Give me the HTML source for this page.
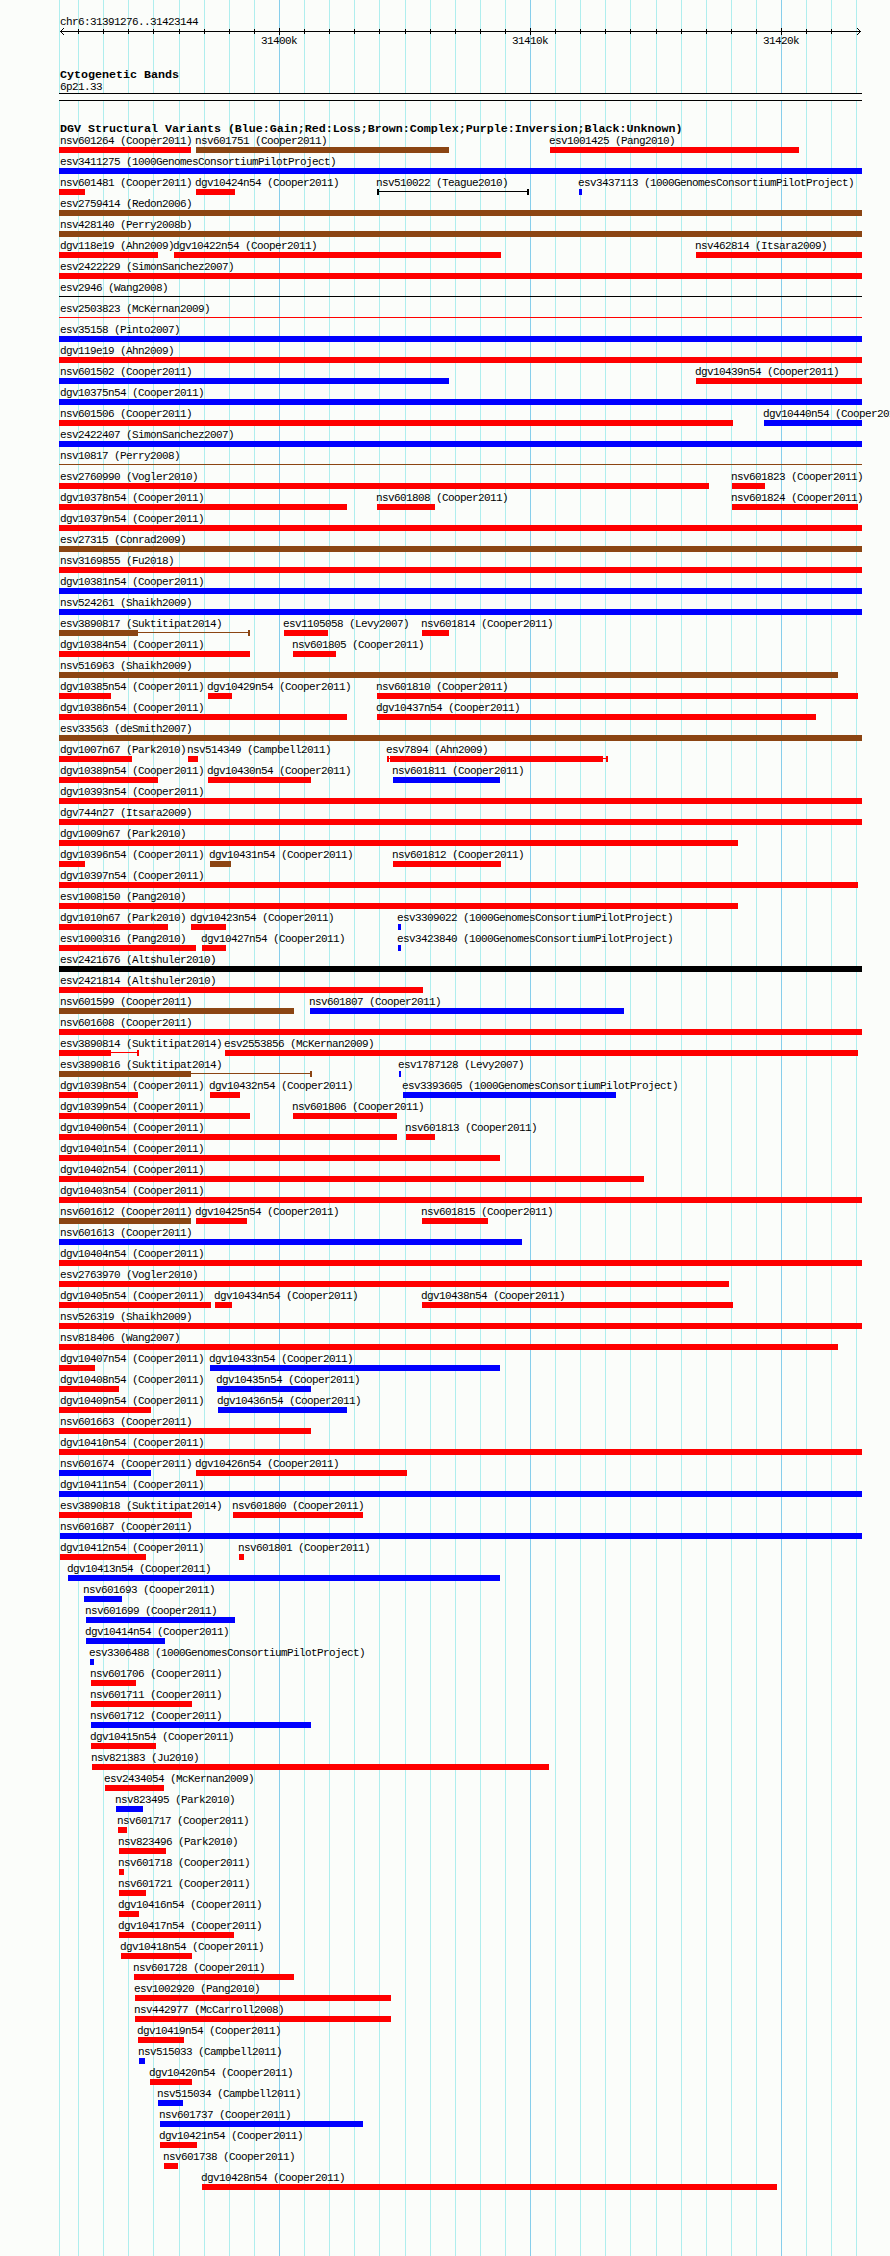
<!DOCTYPE html>
<html><head><meta charset="utf-8"><title>DGV</title><style>
html,body{margin:0;padding:0}
body{width:890px;height:2256px;background:#fbfdfa;position:relative;overflow:hidden}
i,b,s{position:absolute;display:block;text-decoration:none;font-style:normal}
.g{top:0;width:1px;height:2256px;background:#afeeee}
.G{top:0;width:1px;height:2256px;background:#87ceeb}
s{font:11px/13px "Liberation Mono",monospace;letter-spacing:-0.6px;white-space:pre;color:#000}
b{font:bold 11.67px/13px "Liberation Mono",monospace;letter-spacing:0px;white-space:pre;color:#000}
.r{background:#ff0000}.u{background:#0000ff}.n{background:#8b4513}.k{background:#000}
</style></head><body>
<i class="g" style="left:59px"></i>
<i class="g" style="left:78px"></i>
<i class="g" style="left:103px"></i>
<i class="g" style="left:128px"></i>
<i class="g" style="left:153px"></i>
<i class="g" style="left:179px"></i>
<i class="g" style="left:204px"></i>
<i class="g" style="left:229px"></i>
<i class="g" style="left:254px"></i>
<i class="G" style="left:279px"></i>
<i class="g" style="left:304px"></i>
<i class="g" style="left:329px"></i>
<i class="g" style="left:354px"></i>
<i class="g" style="left:379px"></i>
<i class="g" style="left:405px"></i>
<i class="g" style="left:430px"></i>
<i class="g" style="left:455px"></i>
<i class="g" style="left:480px"></i>
<i class="g" style="left:505px"></i>
<i class="G" style="left:530px"></i>
<i class="g" style="left:555px"></i>
<i class="g" style="left:580px"></i>
<i class="g" style="left:605px"></i>
<i class="g" style="left:630px"></i>
<i class="g" style="left:656px"></i>
<i class="g" style="left:681px"></i>
<i class="g" style="left:706px"></i>
<i class="g" style="left:731px"></i>
<i class="g" style="left:756px"></i>
<i class="G" style="left:781px"></i>
<i class="g" style="left:806px"></i>
<i class="g" style="left:831px"></i>
<i class="g" style="left:856px"></i>
<i style="left:59px;top:93px;width:803px;height:8px;background:#fbfdfa;border-top:1px solid #000;border-bottom:1px solid #000;box-sizing:border-box"></i>
<s style="left:60px;top:16px">chr6:31391276..31423144</s>
<i class="k" style="left:60px;top:31px;width:801px;height:1px"></i>
<svg style="position:absolute;left:0;top:0" width="890" height="40" shape-rendering="crispEdges"><path d="M60 31h1v1h-1zM61 30h1v1h-1zM62 29h1v1h-1zM63 28h1v1h-1zM61 32h1v1h-1zM62 33h1v1h-1zM63 34h1v1h-1zM860 31h1v1h-1zM859 30h1v1h-1zM858 29h1v1h-1zM857 28h1v1h-1zM859 32h1v1h-1zM858 33h1v1h-1zM857 34h1v1h-1z" fill="#000"/></svg>
<i class="k" style="left:78px;top:29px;width:1px;height:5px"></i>
<i class="k" style="left:103px;top:29px;width:1px;height:5px"></i>
<i class="k" style="left:128px;top:29px;width:1px;height:5px"></i>
<i class="k" style="left:153px;top:29px;width:1px;height:5px"></i>
<i class="k" style="left:179px;top:29px;width:1px;height:5px"></i>
<i class="k" style="left:204px;top:29px;width:1px;height:5px"></i>
<i class="k" style="left:229px;top:29px;width:1px;height:5px"></i>
<i class="k" style="left:254px;top:29px;width:1px;height:5px"></i>
<i class="k" style="left:279px;top:28px;width:1px;height:7px"></i>
<s style="left:261px;top:35px">31400k</s>
<i class="k" style="left:304px;top:29px;width:1px;height:5px"></i>
<i class="k" style="left:329px;top:29px;width:1px;height:5px"></i>
<i class="k" style="left:354px;top:29px;width:1px;height:5px"></i>
<i class="k" style="left:379px;top:29px;width:1px;height:5px"></i>
<i class="k" style="left:405px;top:29px;width:1px;height:5px"></i>
<i class="k" style="left:430px;top:29px;width:1px;height:5px"></i>
<i class="k" style="left:455px;top:29px;width:1px;height:5px"></i>
<i class="k" style="left:480px;top:29px;width:1px;height:5px"></i>
<i class="k" style="left:505px;top:29px;width:1px;height:5px"></i>
<i class="k" style="left:530px;top:28px;width:1px;height:7px"></i>
<s style="left:512px;top:35px">31410k</s>
<i class="k" style="left:555px;top:29px;width:1px;height:5px"></i>
<i class="k" style="left:580px;top:29px;width:1px;height:5px"></i>
<i class="k" style="left:605px;top:29px;width:1px;height:5px"></i>
<i class="k" style="left:630px;top:29px;width:1px;height:5px"></i>
<i class="k" style="left:656px;top:29px;width:1px;height:5px"></i>
<i class="k" style="left:681px;top:29px;width:1px;height:5px"></i>
<i class="k" style="left:706px;top:29px;width:1px;height:5px"></i>
<i class="k" style="left:731px;top:29px;width:1px;height:5px"></i>
<i class="k" style="left:756px;top:29px;width:1px;height:5px"></i>
<i class="k" style="left:781px;top:28px;width:1px;height:7px"></i>
<s style="left:763px;top:35px">31420k</s>
<i class="k" style="left:806px;top:29px;width:1px;height:5px"></i>
<i class="k" style="left:831px;top:29px;width:1px;height:5px"></i>
<b style="left:60px;top:69px">Cytogenetic Bands</b>
<s style="left:60px;top:81px">6p21.33</s>
<b style="left:60px;top:123px">DGV Structural Variants (Blue:Gain;Red:Loss;Brown:Complex;Purple:Inversion;Black:Unknown)</b>
<s style="left:60px;top:135px">nsv601264 (Cooper2011)</s>
<i class="r" style="left:59px;top:147px;width:132px;height:6px"></i>
<s style="left:195px;top:135px">nsv601751 (Cooper2011)</s>
<i class="n" style="left:196px;top:147px;width:253px;height:6px"></i>
<s style="left:549px;top:135px">esv1001425 (Pang2010)</s>
<i class="r" style="left:550px;top:147px;width:249px;height:6px"></i>
<s style="left:60px;top:156px">esv3411275 (1000GenomesConsortiumPilotProject)</s>
<i class="u" style="left:59px;top:168px;width:803px;height:6px"></i>
<s style="left:60px;top:177px">nsv601481 (Cooper2011)</s>
<i class="r" style="left:59px;top:189px;width:26px;height:6px"></i>
<s style="left:195px;top:177px">dgv10424n54 (Cooper2011)</s>
<i class="r" style="left:196px;top:189px;width:39px;height:6px"></i>
<s style="left:376px;top:177px">nsv510022 (Teague2010)</s>
<i class="k" style="left:377px;top:189px;width:2px;height:6px"></i>
<i class="k" style="left:377px;top:191px;width:152px;height:1px"></i>
<i class="k" style="left:527px;top:189px;width:2px;height:6px"></i>
<s style="left:578px;top:177px">esv3437113 (1000GenomesConsortiumPilotProject)</s>
<i class="u" style="left:579px;top:189px;width:3px;height:6px"></i>
<s style="left:60px;top:198px">esv2759414 (Redon2006)</s>
<i class="n" style="left:59px;top:210px;width:803px;height:6px"></i>
<s style="left:60px;top:219px">nsv428140 (Perry2008b)</s>
<i class="n" style="left:59px;top:231px;width:803px;height:6px"></i>
<s style="left:60px;top:240px">dgv118e19 (Ahn2009)</s>
<i class="r" style="left:59px;top:252px;width:99px;height:6px"></i>
<s style="left:173px;top:240px">dgv10422n54 (Cooper2011)</s>
<i class="r" style="left:174px;top:252px;width:327px;height:6px"></i>
<s style="left:695px;top:240px">nsv462814 (Itsara2009)</s>
<i class="r" style="left:696px;top:252px;width:166px;height:6px"></i>
<s style="left:60px;top:261px">esv2422229 (SimonSanchez2007)</s>
<i class="r" style="left:59px;top:273px;width:803px;height:6px"></i>
<s style="left:60px;top:282px">esv2946 (Wang2008)</s>
<i class="k" style="left:59px;top:296px;width:803px;height:1px"></i>
<s style="left:60px;top:303px">esv2503823 (McKernan2009)</s>
<i class="r" style="left:59px;top:317px;width:803px;height:1px"></i>
<s style="left:60px;top:324px">esv35158 (Pinto2007)</s>
<i class="u" style="left:59px;top:336px;width:803px;height:6px"></i>
<s style="left:60px;top:345px">dgv119e19 (Ahn2009)</s>
<i class="r" style="left:59px;top:357px;width:803px;height:6px"></i>
<s style="left:60px;top:366px">nsv601502 (Cooper2011)</s>
<i class="u" style="left:59px;top:378px;width:390px;height:6px"></i>
<s style="left:695px;top:366px">dgv10439n54 (Cooper2011)</s>
<i class="r" style="left:696px;top:378px;width:166px;height:6px"></i>
<s style="left:60px;top:387px">dgv10375n54 (Cooper2011)</s>
<i class="u" style="left:59px;top:399px;width:803px;height:6px"></i>
<s style="left:60px;top:408px">nsv601506 (Cooper2011)</s>
<i class="r" style="left:59px;top:420px;width:674px;height:6px"></i>
<s style="left:763px;top:408px">dgv10440n54 (Cooper2011)</s>
<i class="u" style="left:764px;top:420px;width:98px;height:6px"></i>
<s style="left:60px;top:429px">esv2422407 (SimonSanchez2007)</s>
<i class="u" style="left:59px;top:441px;width:803px;height:6px"></i>
<s style="left:60px;top:450px">nsv10817 (Perry2008)</s>
<i class="n" style="left:59px;top:464px;width:803px;height:1px"></i>
<s style="left:60px;top:471px">esv2760990 (Vogler2010)</s>
<i class="r" style="left:59px;top:483px;width:650px;height:6px"></i>
<s style="left:731px;top:471px">nsv601823 (Cooper2011)</s>
<i class="r" style="left:732px;top:483px;width:33px;height:6px"></i>
<s style="left:60px;top:492px">dgv10378n54 (Cooper2011)</s>
<i class="r" style="left:59px;top:504px;width:288px;height:6px"></i>
<s style="left:376px;top:492px">nsv601808 (Cooper2011)</s>
<i class="r" style="left:377px;top:504px;width:58px;height:6px"></i>
<s style="left:731px;top:492px">nsv601824 (Cooper2011)</s>
<i class="r" style="left:732px;top:504px;width:126px;height:6px"></i>
<s style="left:60px;top:513px">dgv10379n54 (Cooper2011)</s>
<i class="r" style="left:59px;top:525px;width:803px;height:6px"></i>
<s style="left:60px;top:534px">esv27315 (Conrad2009)</s>
<i class="n" style="left:59px;top:546px;width:803px;height:6px"></i>
<s style="left:60px;top:555px">nsv3169855 (Fu2018)</s>
<i class="r" style="left:59px;top:567px;width:803px;height:6px"></i>
<s style="left:60px;top:576px">dgv10381n54 (Cooper2011)</s>
<i class="u" style="left:59px;top:588px;width:803px;height:6px"></i>
<s style="left:60px;top:597px">nsv524261 (Shaikh2009)</s>
<i class="u" style="left:59px;top:609px;width:803px;height:6px"></i>
<s style="left:60px;top:618px">esv3890817 (Suktitipat2014)</s>
<i class="n" style="left:59px;top:630px;width:79px;height:6px"></i>
<i class="n" style="left:138px;top:632px;width:112px;height:1px"></i>
<i class="n" style="left:248px;top:630px;width:2px;height:6px"></i>
<s style="left:283px;top:618px">esv1105058 (Levy2007)</s>
<i class="r" style="left:284px;top:630px;width:44px;height:6px"></i>
<s style="left:421px;top:618px">nsv601814 (Cooper2011)</s>
<i class="r" style="left:422px;top:630px;width:27px;height:6px"></i>
<s style="left:60px;top:639px">dgv10384n54 (Cooper2011)</s>
<i class="r" style="left:59px;top:651px;width:191px;height:6px"></i>
<s style="left:292px;top:639px">nsv601805 (Cooper2011)</s>
<i class="r" style="left:293px;top:651px;width:43px;height:6px"></i>
<s style="left:60px;top:660px">nsv516963 (Shaikh2009)</s>
<i class="n" style="left:59px;top:672px;width:779px;height:6px"></i>
<s style="left:60px;top:681px">dgv10385n54 (Cooper2011)</s>
<i class="r" style="left:59px;top:693px;width:52px;height:6px"></i>
<s style="left:207px;top:681px">dgv10429n54 (Cooper2011)</s>
<i class="r" style="left:208px;top:693px;width:24px;height:6px"></i>
<s style="left:376px;top:681px">nsv601810 (Cooper2011)</s>
<i class="r" style="left:377px;top:693px;width:481px;height:6px"></i>
<s style="left:60px;top:702px">dgv10386n54 (Cooper2011)</s>
<i class="r" style="left:59px;top:714px;width:288px;height:6px"></i>
<s style="left:376px;top:702px">dgv10437n54 (Cooper2011)</s>
<i class="r" style="left:377px;top:714px;width:439px;height:6px"></i>
<s style="left:60px;top:723px">esv33563 (deSmith2007)</s>
<i class="n" style="left:59px;top:735px;width:803px;height:6px"></i>
<s style="left:60px;top:744px">dgv1007n67 (Park2010)</s>
<i class="r" style="left:59px;top:756px;width:73px;height:6px"></i>
<s style="left:187px;top:744px">nsv514349 (Campbell2011)</s>
<i class="r" style="left:188px;top:756px;width:10px;height:6px"></i>
<s style="left:386px;top:744px">esv7894 (Ahn2009)</s>
<i class="r" style="left:387px;top:756px;width:2px;height:6px"></i>
<i class="r" style="left:387px;top:758px;width:221px;height:1px"></i>
<i class="r" style="left:390px;top:756px;width:213px;height:6px"></i>
<i class="r" style="left:606px;top:756px;width:2px;height:6px"></i>
<s style="left:60px;top:765px">dgv10389n54 (Cooper2011)</s>
<i class="r" style="left:59px;top:777px;width:99px;height:6px"></i>
<s style="left:207px;top:765px">dgv10430n54 (Cooper2011)</s>
<i class="r" style="left:208px;top:777px;width:103px;height:6px"></i>
<s style="left:392px;top:765px">nsv601811 (Cooper2011)</s>
<i class="u" style="left:393px;top:777px;width:107px;height:6px"></i>
<s style="left:60px;top:786px">dgv10393n54 (Cooper2011)</s>
<i class="r" style="left:59px;top:798px;width:803px;height:6px"></i>
<s style="left:60px;top:807px">dgv744n27 (Itsara2009)</s>
<i class="r" style="left:59px;top:819px;width:803px;height:6px"></i>
<s style="left:60px;top:828px">dgv1009n67 (Park2010)</s>
<i class="r" style="left:59px;top:840px;width:679px;height:6px"></i>
<s style="left:60px;top:849px">dgv10396n54 (Cooper2011)</s>
<i class="r" style="left:59px;top:861px;width:26px;height:6px"></i>
<s style="left:209px;top:849px">dgv10431n54 (Cooper2011)</s>
<i class="n" style="left:210px;top:861px;width:21px;height:6px"></i>
<s style="left:392px;top:849px">nsv601812 (Cooper2011)</s>
<i class="r" style="left:393px;top:861px;width:108px;height:6px"></i>
<s style="left:60px;top:870px">dgv10397n54 (Cooper2011)</s>
<i class="r" style="left:59px;top:882px;width:799px;height:6px"></i>
<s style="left:60px;top:891px">esv1008150 (Pang2010)</s>
<i class="r" style="left:59px;top:903px;width:679px;height:6px"></i>
<s style="left:60px;top:912px">dgv1010n67 (Park2010)</s>
<i class="r" style="left:59px;top:924px;width:109px;height:6px"></i>
<s style="left:190px;top:912px">dgv10423n54 (Cooper2011)</s>
<i class="r" style="left:191px;top:924px;width:35px;height:6px"></i>
<s style="left:397px;top:912px">esv3309022 (1000GenomesConsortiumPilotProject)</s>
<i class="u" style="left:398px;top:924px;width:3px;height:6px"></i>
<s style="left:60px;top:933px">esv1000316 (Pang2010)</s>
<i class="r" style="left:59px;top:945px;width:137px;height:6px"></i>
<s style="left:201px;top:933px">dgv10427n54 (Cooper2011)</s>
<i class="r" style="left:202px;top:945px;width:24px;height:6px"></i>
<s style="left:397px;top:933px">esv3423840 (1000GenomesConsortiumPilotProject)</s>
<i class="u" style="left:398px;top:945px;width:3px;height:6px"></i>
<s style="left:60px;top:954px">esv2421676 (Altshuler2010)</s>
<i class="k" style="left:59px;top:966px;width:803px;height:6px"></i>
<s style="left:60px;top:975px">esv2421814 (Altshuler2010)</s>
<i class="r" style="left:59px;top:987px;width:364px;height:6px"></i>
<s style="left:60px;top:996px">nsv601599 (Cooper2011)</s>
<i class="n" style="left:59px;top:1008px;width:235px;height:6px"></i>
<s style="left:309px;top:996px">nsv601807 (Cooper2011)</s>
<i class="u" style="left:310px;top:1008px;width:314px;height:6px"></i>
<s style="left:60px;top:1017px">nsv601608 (Cooper2011)</s>
<i class="r" style="left:59px;top:1029px;width:803px;height:6px"></i>
<s style="left:60px;top:1038px">esv3890814 (Suktitipat2014)</s>
<i class="r" style="left:59px;top:1050px;width:52px;height:6px"></i>
<i class="r" style="left:111px;top:1052px;width:28px;height:1px"></i>
<i class="r" style="left:137px;top:1050px;width:2px;height:6px"></i>
<s style="left:224px;top:1038px">esv2553856 (McKernan2009)</s>
<i class="r" style="left:225px;top:1050px;width:633px;height:6px"></i>
<s style="left:60px;top:1059px">esv3890816 (Suktitipat2014)</s>
<i class="n" style="left:59px;top:1071px;width:132px;height:6px"></i>
<i class="n" style="left:191px;top:1073px;width:121px;height:1px"></i>
<i class="n" style="left:310px;top:1071px;width:2px;height:6px"></i>
<s style="left:398px;top:1059px">esv1787128 (Levy2007)</s>
<i class="u" style="left:399px;top:1071px;width:2px;height:6px"></i>
<s style="left:60px;top:1080px">dgv10398n54 (Cooper2011)</s>
<i class="r" style="left:59px;top:1092px;width:79px;height:6px"></i>
<s style="left:209px;top:1080px">dgv10432n54 (Cooper2011)</s>
<i class="r" style="left:210px;top:1092px;width:30px;height:6px"></i>
<s style="left:402px;top:1080px">esv3393605 (1000GenomesConsortiumPilotProject)</s>
<i class="u" style="left:403px;top:1092px;width:213px;height:6px"></i>
<s style="left:60px;top:1101px">dgv10399n54 (Cooper2011)</s>
<i class="r" style="left:59px;top:1113px;width:191px;height:6px"></i>
<s style="left:292px;top:1101px">nsv601806 (Cooper2011)</s>
<i class="r" style="left:293px;top:1113px;width:104px;height:6px"></i>
<s style="left:60px;top:1122px">dgv10400n54 (Cooper2011)</s>
<i class="r" style="left:59px;top:1134px;width:338px;height:6px"></i>
<s style="left:405px;top:1122px">nsv601813 (Cooper2011)</s>
<i class="r" style="left:406px;top:1134px;width:29px;height:6px"></i>
<s style="left:60px;top:1143px">dgv10401n54 (Cooper2011)</s>
<i class="r" style="left:59px;top:1155px;width:441px;height:6px"></i>
<s style="left:60px;top:1164px">dgv10402n54 (Cooper2011)</s>
<i class="r" style="left:59px;top:1176px;width:585px;height:6px"></i>
<s style="left:60px;top:1185px">dgv10403n54 (Cooper2011)</s>
<i class="r" style="left:59px;top:1197px;width:803px;height:6px"></i>
<s style="left:60px;top:1206px">nsv601612 (Cooper2011)</s>
<i class="n" style="left:59px;top:1218px;width:132px;height:6px"></i>
<s style="left:195px;top:1206px">dgv10425n54 (Cooper2011)</s>
<i class="r" style="left:196px;top:1218px;width:51px;height:6px"></i>
<s style="left:421px;top:1206px">nsv601815 (Cooper2011)</s>
<i class="r" style="left:422px;top:1218px;width:66px;height:6px"></i>
<s style="left:60px;top:1227px">nsv601613 (Cooper2011)</s>
<i class="u" style="left:59px;top:1239px;width:463px;height:6px"></i>
<s style="left:60px;top:1248px">dgv10404n54 (Cooper2011)</s>
<i class="r" style="left:59px;top:1260px;width:803px;height:6px"></i>
<s style="left:60px;top:1269px">esv2763970 (Vogler2010)</s>
<i class="r" style="left:59px;top:1281px;width:670px;height:6px"></i>
<s style="left:60px;top:1290px">dgv10405n54 (Cooper2011)</s>
<i class="r" style="left:59px;top:1302px;width:152px;height:6px"></i>
<s style="left:214px;top:1290px">dgv10434n54 (Cooper2011)</s>
<i class="r" style="left:215px;top:1302px;width:17px;height:6px"></i>
<s style="left:421px;top:1290px">dgv10438n54 (Cooper2011)</s>
<i class="r" style="left:422px;top:1302px;width:311px;height:6px"></i>
<s style="left:60px;top:1311px">nsv526319 (Shaikh2009)</s>
<i class="r" style="left:59px;top:1323px;width:803px;height:6px"></i>
<s style="left:60px;top:1332px">nsv818406 (Wang2007)</s>
<i class="r" style="left:59px;top:1344px;width:779px;height:6px"></i>
<s style="left:60px;top:1353px">dgv10407n54 (Cooper2011)</s>
<i class="r" style="left:59px;top:1365px;width:36px;height:6px"></i>
<s style="left:209px;top:1353px">dgv10433n54 (Cooper2011)</s>
<i class="u" style="left:210px;top:1365px;width:290px;height:6px"></i>
<s style="left:60px;top:1374px">dgv10408n54 (Cooper2011)</s>
<i class="r" style="left:59px;top:1386px;width:60px;height:6px"></i>
<s style="left:216px;top:1374px">dgv10435n54 (Cooper2011)</s>
<i class="u" style="left:217px;top:1386px;width:94px;height:6px"></i>
<s style="left:60px;top:1395px">dgv10409n54 (Cooper2011)</s>
<i class="r" style="left:59px;top:1407px;width:92px;height:6px"></i>
<s style="left:217px;top:1395px">dgv10436n54 (Cooper2011)</s>
<i class="u" style="left:218px;top:1407px;width:129px;height:6px"></i>
<s style="left:60px;top:1416px">nsv601663 (Cooper2011)</s>
<i class="r" style="left:59px;top:1428px;width:252px;height:6px"></i>
<s style="left:60px;top:1437px">dgv10410n54 (Cooper2011)</s>
<i class="r" style="left:59px;top:1449px;width:803px;height:6px"></i>
<s style="left:60px;top:1458px">nsv601674 (Cooper2011)</s>
<i class="u" style="left:59px;top:1470px;width:92px;height:6px"></i>
<s style="left:195px;top:1458px">dgv10426n54 (Cooper2011)</s>
<i class="r" style="left:196px;top:1470px;width:211px;height:6px"></i>
<s style="left:60px;top:1479px">dgv10411n54 (Cooper2011)</s>
<i class="u" style="left:59px;top:1491px;width:803px;height:6px"></i>
<s style="left:60px;top:1500px">esv3890818 (Suktitipat2014)</s>
<i class="r" style="left:59px;top:1512px;width:133px;height:6px"></i>
<s style="left:232px;top:1500px">nsv601800 (Cooper2011)</s>
<i class="r" style="left:233px;top:1512px;width:130px;height:6px"></i>
<s style="left:60px;top:1521px">nsv601687 (Cooper2011)</s>
<i class="u" style="left:60px;top:1533px;width:802px;height:6px"></i>
<s style="left:60px;top:1542px">dgv10412n54 (Cooper2011)</s>
<i class="r" style="left:60px;top:1554px;width:86px;height:6px"></i>
<s style="left:238px;top:1542px">nsv601801 (Cooper2011)</s>
<i class="r" style="left:239px;top:1554px;width:5px;height:6px"></i>
<s style="left:67px;top:1563px">dgv10413n54 (Cooper2011)</s>
<i class="u" style="left:68px;top:1575px;width:432px;height:6px"></i>
<s style="left:83px;top:1584px">nsv601693 (Cooper2011)</s>
<i class="u" style="left:84px;top:1596px;width:38px;height:6px"></i>
<s style="left:85px;top:1605px">nsv601699 (Cooper2011)</s>
<i class="u" style="left:86px;top:1617px;width:149px;height:6px"></i>
<s style="left:85px;top:1626px">dgv10414n54 (Cooper2011)</s>
<i class="u" style="left:86px;top:1638px;width:79px;height:6px"></i>
<s style="left:89px;top:1647px">esv3306488 (1000GenomesConsortiumPilotProject)</s>
<i class="u" style="left:90px;top:1659px;width:4px;height:6px"></i>
<s style="left:90px;top:1668px">nsv601706 (Cooper2011)</s>
<i class="r" style="left:91px;top:1680px;width:45px;height:6px"></i>
<s style="left:90px;top:1689px">nsv601711 (Cooper2011)</s>
<i class="r" style="left:91px;top:1701px;width:101px;height:6px"></i>
<s style="left:90px;top:1710px">nsv601712 (Cooper2011)</s>
<i class="u" style="left:91px;top:1722px;width:220px;height:6px"></i>
<s style="left:90px;top:1731px">dgv10415n54 (Cooper2011)</s>
<i class="r" style="left:91px;top:1743px;width:65px;height:6px"></i>
<s style="left:91px;top:1752px">nsv821383 (Ju2010)</s>
<i class="r" style="left:92px;top:1764px;width:457px;height:6px"></i>
<s style="left:104px;top:1773px">esv2434054 (McKernan2009)</s>
<i class="r" style="left:105px;top:1785px;width:59px;height:6px"></i>
<s style="left:115px;top:1794px">nsv823495 (Park2010)</s>
<i class="u" style="left:116px;top:1806px;width:27px;height:6px"></i>
<s style="left:117px;top:1815px">nsv601717 (Cooper2011)</s>
<i class="r" style="left:118px;top:1827px;width:9px;height:6px"></i>
<s style="left:118px;top:1836px">nsv823496 (Park2010)</s>
<i class="r" style="left:119px;top:1848px;width:47px;height:6px"></i>
<s style="left:118px;top:1857px">nsv601718 (Cooper2011)</s>
<i class="r" style="left:119px;top:1869px;width:5px;height:6px"></i>
<s style="left:118px;top:1878px">nsv601721 (Cooper2011)</s>
<i class="r" style="left:119px;top:1890px;width:27px;height:6px"></i>
<s style="left:118px;top:1899px">dgv10416n54 (Cooper2011)</s>
<i class="r" style="left:119px;top:1911px;width:20px;height:6px"></i>
<s style="left:118px;top:1920px">dgv10417n54 (Cooper2011)</s>
<i class="r" style="left:119px;top:1932px;width:115px;height:6px"></i>
<s style="left:120px;top:1941px">dgv10418n54 (Cooper2011)</s>
<i class="r" style="left:121px;top:1953px;width:71px;height:6px"></i>
<s style="left:133px;top:1962px">nsv601728 (Cooper2011)</s>
<i class="r" style="left:134px;top:1974px;width:160px;height:6px"></i>
<s style="left:134px;top:1983px">esv1002920 (Pang2010)</s>
<i class="r" style="left:135px;top:1995px;width:256px;height:6px"></i>
<s style="left:134px;top:2004px">nsv442977 (McCarroll2008)</s>
<i class="r" style="left:135px;top:2016px;width:256px;height:6px"></i>
<s style="left:137px;top:2025px">dgv10419n54 (Cooper2011)</s>
<i class="r" style="left:138px;top:2037px;width:46px;height:6px"></i>
<s style="left:138px;top:2046px">nsv515033 (Campbell2011)</s>
<i class="u" style="left:139px;top:2058px;width:6px;height:6px"></i>
<s style="left:149px;top:2067px">dgv10420n54 (Cooper2011)</s>
<i class="r" style="left:150px;top:2079px;width:42px;height:6px"></i>
<s style="left:157px;top:2088px">nsv515034 (Campbell2011)</s>
<i class="u" style="left:158px;top:2100px;width:25px;height:6px"></i>
<s style="left:159px;top:2109px">nsv601737 (Cooper2011)</s>
<i class="u" style="left:160px;top:2121px;width:203px;height:6px"></i>
<s style="left:159px;top:2130px">dgv10421n54 (Cooper2011)</s>
<i class="r" style="left:160px;top:2142px;width:37px;height:6px"></i>
<s style="left:163px;top:2151px">nsv601738 (Cooper2011)</s>
<i class="r" style="left:164px;top:2163px;width:14px;height:6px"></i>
<s style="left:201px;top:2172px">dgv10428n54 (Cooper2011)</s>
<i class="r" style="left:202px;top:2184px;width:575px;height:6px"></i>
</body></html>
